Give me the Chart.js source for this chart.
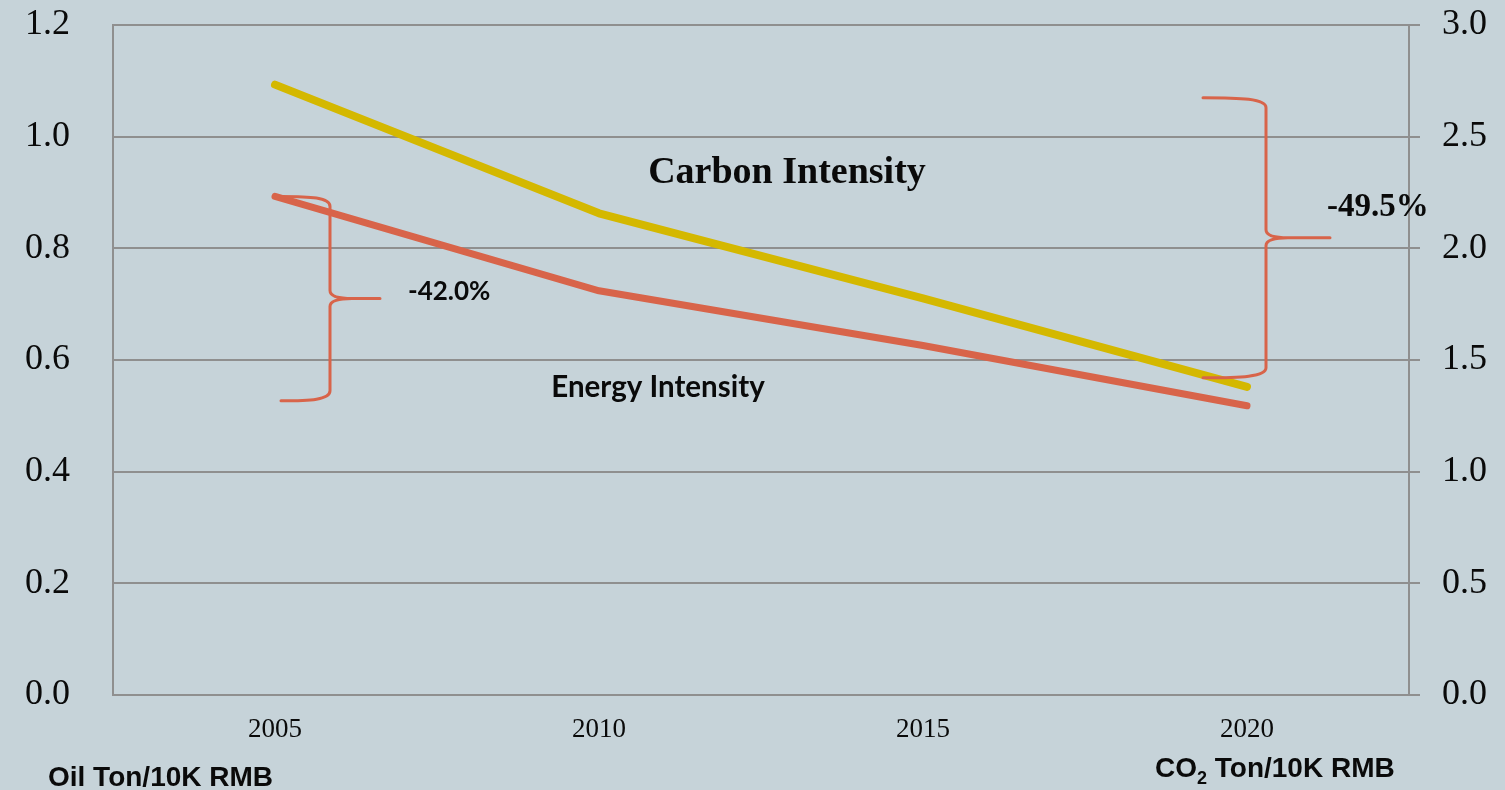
<!DOCTYPE html>
<html>
<head>
<meta charset="utf-8">
<script src="https://cdn.jsdelivr.net/npm/chart.js@4.4.1/dist/chart.umd.min.js"></script>
<style>
  html, body { margin: 0; padding: 0; background: #c6d3d9; }
  #wrap { width: 1505px; height: 790px; }
</style>
</head>
<body>
<div id="wrap"><canvas id="c" width="1505" height="790"></canvas></div>
<script>
// Years on the horizontal axis
const years = ['2005', '2010', '2015', '2020'];
// Energy intensity, oil ton per 10K RMB (left axis)
const energyIntensity = [0.893, 0.724, 0.626, 0.518];
// Carbon intensity, CO2 ton per 10K RMB (right axis)
const carbonIntensity = [2.733, 2.157, 1.776, 1.380];
// Axis tick settings
const leftTicks = { min: 0, max: 1.2, step: 0.2 };
const rightTicks = { min: 0, max: 3.0, step: 0.5 };

const GRID = '#8f8f8f';
const RED = '#d8644a';
const YELLOW = '#d4b800';
const INK = '#0a0a0a';

function pctChange(arr) {
  const v = (arr[arr.length - 1] / arr[0] - 1) * 100;
  return v.toFixed(1) + '%';
}

function drawBrace(ctx, xArm, xSpine, xTip, yTop, yBot) {
  const yMid = (yTop + yBot) / 2;
  const dir = Math.sign(xTip - xSpine);
  ctx.beginPath();
  ctx.moveTo(xArm, yTop);
  ctx.bezierCurveTo(xArm + (xSpine - xArm) * 0.6, yTop, xSpine, yTop + 1, xSpine, yTop + 10);
  ctx.lineTo(xSpine, yMid - 8);
  ctx.bezierCurveTo(xSpine, yMid - 2, xSpine + dir * 8, yMid, xSpine + dir * 22, yMid);
  ctx.lineTo(xTip, yMid);
  ctx.moveTo(xSpine + dir * 22, yMid);
  ctx.bezierCurveTo(xSpine + dir * 8, yMid, xSpine, yMid + 2, xSpine, yMid + 8);
  ctx.lineTo(xSpine, yBot - 10);
  ctx.bezierCurveTo(xSpine, yBot - 1, xArm + (xSpine - xArm) * 0.6, yBot, xArm, yBot);
  ctx.stroke();
}

// Keep the value axes from reserving extra room above and below the plot
function fitValueAxis(width) {
  return axis => {
    axis.width = width;
    axis.paddingTop = 0;
    axis.paddingBottom = 0;
  };
}

const annotations = {
  id: 'annotations',
  afterDatasetsDraw(chart) {
    const { ctx, scales } = chart;
    const x = scales.x, y = scales.y, y1 = scales.y1;
    ctx.save();
    ctx.strokeStyle = RED;
    ctx.lineWidth = 3;
    ctx.lineCap = 'round';
    ctx.lineJoin = 'round';

    // Brace spanning the energy intensity drop
    const x0 = x.getPixelForValue(0);
    const eTop = y.getPixelForValue(energyIntensity[0]);
    const eBot = y.getPixelForValue(energyIntensity[energyIntensity.length - 1]) - 5;
    drawBrace(ctx, x0 + 6, x0 + 55, x0 + 105, eTop, eBot);

    // Brace spanning the carbon intensity drop
    const x3 = x.getPixelForValue(years.length - 1);
    const cTop = y1.getPixelForValue(carbonIntensity[0]) + 13;
    const cBot = y1.getPixelForValue(carbonIntensity[carbonIntensity.length - 1]) - 9;
    drawBrace(ctx, x3 - 44, x3 + 19, x3 + 83, cTop, cBot);

    ctx.fillStyle = INK;
    ctx.textBaseline = 'alphabetic';

    ctx.textAlign = 'left';
    ctx.font = 'bold 26px Lato';
    ctx.fillText(pctChange(energyIntensity), x0 + 133, (eTop + eBot) / 2 + 1);

    ctx.font = 'bold 33px "Liberation Serif"';
    ctx.fillText(pctChange(carbonIntensity), x3 + 80, (cTop + cBot) / 2 - 22);

    // Series names
    ctx.textAlign = 'center';
    ctx.font = 'bold 38px "Liberation Serif"';
    ctx.fillText('Carbon Intensity', 787, 183);
    ctx.font = 'bold 29.5px Lato';
    ctx.fillText('Energy Intensity', 658, 397);

    // Unit captions
    ctx.textAlign = 'left';
    ctx.font = 'bold 28px "Liberation Sans"';
    ctx.fillText('Oil Ton/10K RMB', 48, 786);

    ctx.font = 'bold 28px "Liberation Sans"';
    let cx = 1155;
    const base = 777;
    ctx.fillText('CO', cx, base);
    cx += ctx.measureText('CO').width;
    ctx.font = 'bold 18px "Liberation Sans"';
    ctx.fillText('2', cx, base + 7);
    cx += ctx.measureText('2').width;
    ctx.font = 'bold 28px "Liberation Sans"';
    ctx.fillText(' Ton/10K RMB', cx, base);
    ctx.restore();
  }
};

new Chart(document.getElementById('c'), {
  type: 'line',
  data: {
    labels: years,
    datasets: [
      {
        label: 'Carbon Intensity',
        data: carbonIntensity,
        yAxisID: 'y1',
        borderColor: YELLOW,
        borderWidth: 8,
        borderCapStyle: 'round',
        borderJoinStyle: 'round',
        pointRadius: 0,
        tension: 0,
        fill: false
      },
      {
        label: 'Energy Intensity',
        data: energyIntensity,
        yAxisID: 'y',
        borderColor: RED,
        borderWidth: 7,
        borderCapStyle: 'round',
        borderJoinStyle: 'round',
        pointRadius: 0,
        tension: 0,
        fill: false
      }
    ]
  },
  options: {
    responsive: false,
    animation: false,
    layout: { padding: { top: 25, left: 0, right: 0, bottom: 0 } },
    plugins: {
      legend: { display: false },
      tooltip: { enabled: false }
    },
    scales: {
      x: {
        offset: true,
        grid: { display: false, drawTicks: false },
        border: { display: true, color: GRID, width: 2 },
        ticks: {
          color: INK,
          padding: 19,
          font: { family: '"Liberation Serif"', size: 27 }
        },
        afterFit(axis) { axis.height = 95; }
      },
      y: {
        position: 'left',
        min: leftTicks.min,
        max: leftTicks.max,
        grid: { color: GRID, lineWidth: 2, drawTicks: false },
        border: { display: true, color: GRID, width: 2 },
        ticks: {
          stepSize: leftTicks.step,
          padding: 43,
          color: INK,
          font: { family: '"Liberation Serif"', size: 36 },
          callback: v => Number(v).toFixed(1)
        },
        afterFit: fitValueAxis(113)
      },
      y1: {
        position: 'right',
        min: rightTicks.min,
        max: rightTicks.max,
        grid: { drawOnChartArea: false, color: GRID, lineWidth: 2, drawTicks: true, tickLength: 11 },
        border: { display: true, color: GRID, width: 2 },
        ticks: {
          stepSize: rightTicks.step,
          padding: 22,
          color: INK,
          font: { family: '"Liberation Serif"', size: 36 },
          callback: v => Number(v).toFixed(1)
        },
        afterFit: fitValueAxis(96)
      }
    }
  },
  plugins: [annotations]
});
</script>
</body>
</html>
